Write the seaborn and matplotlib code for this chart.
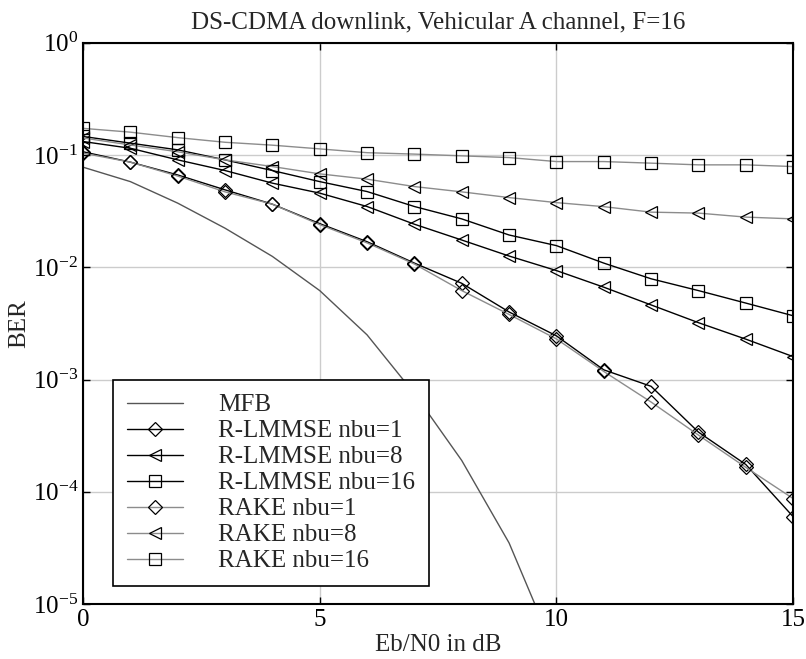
import numpy as np
import pandas as pd
import seaborn as sns
import matplotlib.pyplot as plt
from matplotlib.ticker import LogLocator, NullLocator, FixedLocator

# Eb/N0 grid (dB)
ebn0 = [0, 1, 2, 3, 4, 5, 6, 7, 8, 9, 10, 11, 12, 13, 14, 15]

# BER curves
mfb = [0.078, 0.058, 0.0373, 0.0223, 0.0125, 0.0062, 0.0025, 0.00075,
       0.00019, 3.5e-5, 3.5e-6, 2e-7, 1e-8, 1e-9, 1e-10, 1e-11]
rlmmse_1 = [0.107, 0.0865, 0.0665, 0.049, 0.0365, 0.0245, 0.0169, 0.0109,
            0.0072, 0.0040, 0.00245, 0.00122, 0.00087, 0.00034, 0.000175, 0.00006]
rlmmse_8 = [0.132, 0.115, 0.0906, 0.0728, 0.0562, 0.0458, 0.0348, 0.0242,
            0.0175, 0.0126, 0.00935, 0.00665, 0.00462, 0.00321, 0.00229, 0.0016]
rlmmse_16 = [0.1465, 0.1277, 0.1113, 0.0906, 0.0728, 0.058, 0.0473, 0.0348,
             0.027, 0.0194, 0.0156, 0.0109, 0.0079, 0.0062, 0.0048, 0.0037]
rake_1 = [0.104, 0.0865, 0.065, 0.047, 0.0365, 0.024, 0.0165, 0.0107,
          0.0062, 0.0038, 0.0023, 0.00118, 0.00063, 0.00032, 0.000165, 0.000087]
rake_8 = [0.142, 0.123, 0.107, 0.0906, 0.079, 0.068, 0.061, 0.0524,
          0.047, 0.0418, 0.0377, 0.0347, 0.031, 0.0304, 0.028, 0.027]
rake_16 = [0.173, 0.16, 0.143, 0.130, 0.1225, 0.1135, 0.105, 0.102,
           0.0984, 0.095, 0.0875, 0.0875, 0.0847, 0.0818, 0.0818, 0.079]

labels = ["MFB", "R-LMMSE nbu=1", "R-LMMSE nbu=8", "R-LMMSE nbu=16",
          "RAKE nbu=1", "RAKE nbu=8", "RAKE nbu=16"]
curves = [mfb, rlmmse_1, rlmmse_8, rlmmse_16, rake_1, rake_8, rake_16]

df = pd.DataFrame({"ebn0": np.tile(ebn0, len(labels)),
                   "ber": np.concatenate(curves),
                   "curve": np.repeat(labels, len(ebn0))})

# line styles per curve
styles = {
    "MFB": dict(color="#555555", marker=None),
    "R-LMMSE nbu=1": dict(color="black", marker="D"),
    "R-LMMSE nbu=8": dict(color="black", marker="<"),
    "R-LMMSE nbu=16": dict(color="black", marker="s"),
    "RAKE nbu=1": dict(color="#8c8c8c", marker="D"),
    "RAKE nbu=8": dict(color="#8c8c8c", marker="<"),
    "RAKE nbu=16": dict(color="#8c8c8c", marker="s"),
}

sns.set_theme(style="ticks")
plt.rcParams['font.family'] = ['Liberation Serif', 'DejaVu Serif']
plt.rcParams['mathtext.fontset'] = 'custom'
plt.rcParams['mathtext.rm'] = 'Liberation Serif'
plt.rcParams['axes.unicode_minus'] = False

fig = plt.figure(figsize=(8.06, 6.59), dpi=100)
ax = fig.add_axes([0.103, 0.0835, 0.881, 0.8515])

for name in labels:
    st = styles[name]
    sub = df[df["curve"] == name]
    msize = 7 if st["marker"] == "D" else 9
    sns.lineplot(data=sub, x="ebn0", y="ber", ax=ax, label=name,
                 color=st["color"], lw=1.0, marker=st["marker"],
                 markersize=msize, markerfacecolor="none",
                 markeredgecolor="black", markeredgewidth=0.9)

ax.set_yscale("log")
ax.set_xlim(0, 15)
ax.set_ylim(1e-5, 1)
ax.xaxis.set_major_locator(FixedLocator([0, 5, 10, 15]))
ax.yaxis.set_major_locator(LogLocator(base=10, numticks=10))
ax.yaxis.set_minor_locator(NullLocator())
ax.grid(True, color="#cccccc", lw=1.0)
ax.tick_params(direction="in", length=5, width=1, top=True, right=True,
               labelsize=18, colors="black")
for sp in ax.spines.values():
    sp.set_linewidth(1.5)
    sp.set_color("black")

ax.set_xlabel("Eb/N0 in dB", fontsize=18, labelpad=2)
ax.set_ylabel("BER", fontsize=18, labelpad=2)
ax.set_title("DS-CDMA downlink, Vehicular A channel, F=16", fontsize=18, pad=10)

leg = ax.legend(loc="lower left", fontsize=18, frameon=True, fancybox=False,
                edgecolor="black", framealpha=1, labelspacing=0.14,
                handlelength=2.25, handletextpad=1.4, borderpad=0.55,
                borderaxespad=0, bbox_to_anchor=(0.042, 0.032))
leg.get_frame().set_linewidth(1.2)

fig.savefig("out.png", dpi=100)
